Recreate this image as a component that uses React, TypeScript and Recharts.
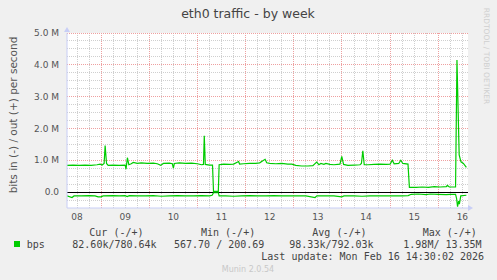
import React from "react";
import {
    LineChart, Line, XAxis, YAxis, ReferenceLine, ReferenceDot, CartesianGrid
} from "recharts";

// hours since Feb 8 00:00 -> Mbit/s
const outSamples: [number, number][] = [
    [7, 0.84], [10, 0.85], [13, 0.84], [16, 0.85], [19, 0.84], [22, 0.86], [23.5, 0.88], [24.5, 0.85],
    [25.5, 0.9], [26, 1.46], [26.7, 0.9], [27.5, 0.84], [30, 0.85], [33, 0.84], [36, 0.85], [36.4, 0.72],
    [37.1, 1.08], [37.8, 0.86], [39, 0.89], [40, 0.93], [42, 0.9], [44, 0.92], [47, 0.9], [50, 0.91],
    [52, 0.89], [53.7, 0.84], [55, 0.9], [58, 0.91], [59.5, 0.89], [60, 0.75], [60.5, 0.9], [63, 0.92],
    [66, 0.9], [69, 0.91], [72, 0.89], [74, 0.86], [75, 0.87], [75.4, 1.77], [75.9, 0.87], [78, 0.85],
    [79.5, 0.85], [80, 0.02], [82.4, 0.02], [82.8, 0.86], [85, 0.88], [88, 0.87], [90, 0.88], [92.5, 0.96],
    [93, 0.88], [95, 0.89], [98, 0.9], [101, 0.9], [103, 0.92], [105.7, 1.03], [106.5, 0.92], [108, 0.9],
    [111, 0.89], [114, 0.9], [117, 0.88], [119, 0.88], [121, 0.84], [124, 0.82], [127, 0.82], [129.5, 0.83],
    [131.4, 0.94], [132.5, 0.86], [133.5, 0.9], [135, 0.87], [136, 0.9], [138, 0.87], [140, 0.86], [143, 0.88],
    [143.9, 1.12], [144.8, 0.87], [147, 0.84], [150, 0.85], [153, 0.86], [153.7, 0.9], [154.4, 1.3], [155.1, 0.86],
    [157, 0.86], [160, 0.87], [163, 0.88], [166, 0.87], [168, 0.88], [169.1, 1.0], [170, 0.89], [172.3, 0.9],
    [173.3, 1.0], [174.3, 0.9], [176.9, 0.88], [177.6, 0.15], [181, 0.15], [184, 0.16], [187, 0.15], [190, 0.17],
    [193, 0.16], [196, 0.17], [196.5, 0.21], [197.5, 0.16], [200.6, 0.16], [201.3, 4.15], [202.4, 1.17], [203.3, 0.95],
    [204.5, 0.9], [206, 0.78],
];

const inSamples: [number, number][] = [
    [7, 0.12], [9.5, 0.17], [10.5, 0.12], [14, 0.12], [18, 0.11], [21, 0.12], [22.5, 0.15], [24, 0.15],
    [25, 0.12], [30, 0.11], [33, 0.12], [36, 0.11], [37, 0.14], [38, 0.11], [42, 0.12], [46, 0.12],
    [50, 0.11], [54, 0.13], [58, 0.12], [62, 0.11], [66, 0.12], [70, 0.12], [74, 0.11], [78, 0.12],
    [79.3, 0.1], [80, 0.02], [82.4, 0.02], [82.8, 0.12], [86, 0.12], [90, 0.13], [94, 0.12], [98, 0.11],
    [102, 0.12], [106, 0.12], [110, 0.11], [114, 0.12], [118, 0.12], [122, 0.12], [126, 0.12], [130.6, 0.17],
    [131.5, 0.12], [136, 0.12], [140, 0.12], [143.9, 0.15], [145, 0.12], [150, 0.12], [154, 0.13], [158, 0.12],
    [162, 0.12], [166, 0.12], [170, 0.12], [174, 0.12], [177, 0.11], [178.5, 0.07], [182, 0.06], [186, 0.08],
    [188, 0.06], [192, 0.07], [196, 0.08], [198, 0.07], [200.6, 0.07], [201.1, 0.2], [201.6, 0.46], [202.1, 0.28],
    [202.5, 0.38], [203.2, 0.12], [206, 0.1],
];

const dayLabels = ["08", "09", "10", "11", "12", "13", "14", "15", "16"];
const yTicks = [0, 1, 2, 3, 4, 5];
const yLabels = ["0.0", "1.0 M", "2.0 M", "3.0 M", "4.0 M", "5.0 M"];

const legendHead = ["Cur (-/+)", "Min (-/+)", "Avg (-/+)", "Max (-/+)"];
const legendVals = ["82.60k/780.64k", "567.70 / 200.69", "98.33k/792.03k", "1.98M/ 13.35M"];

const T_MIN = 7;
const T_MAX = 206.8;
const Y_MIN = -0.5;
const Y_MAX = 5;

const outData = outSamples.map(([t, v]) => ({ t, v }));
const inData = inSamples.map(([t, v]) => ({ t, v: -v }));

const dayTicks = dayLabels.map((_, i) => 12 + i * 24);
const majorX: number[] = [];
const minorX: number[] = [];
for (let h = 6; h < T_MAX; h += 6) {
    if (h < T_MIN) continue;
    if (h % 24 === 0) majorX.push(h);
    else minorX.push(h);
}
const majorY = yTicks.filter((v) => v > 0);
const minorY: number[] = [];
for (let q = -1; q < 20; q++) {
    if (q % 4 !== 0) minorY.push(q / 4);
}

const GREEN = "#00cc00";
const AXIS = "#c8cef6";
const MINOR = "#cfcfcf";
const MAJOR = "#eea0a0";
const tickStyle = { fontFamily: "DejaVu Sans", fontSize: 9, fill: "#555" };
const mono = "DejaVu Sans Mono";

export default function App() {
    return (
        <div style={{ position: "fixed", left: 0, top: 0, width: 497, height: 280, background: "#f0f0f0" }}>
            <LineChart width={497} height={280} data={outData} margin={{ top: 33, right: 29, bottom: 52, left: 0 }}>
                <CartesianGrid fill="#ffffff" fillOpacity={1} horizontal={false} vertical={false} />
                <XAxis
                    type="number"
                    dataKey="t"
                    domain={[T_MIN, T_MAX]}
                    allowDataOverflow
                    ticks={dayTicks}
                    tickFormatter={(t: number) => dayLabels[Math.round((t - 12) / 24)]}
                    height={20}
                    tickLine={false}
                    tickSize={0}
                    tickMargin={6}
                    tick={tickStyle}
                    axisLine={{ stroke: AXIS }}
                />
                <YAxis
                    type="number"
                    domain={[Y_MIN, Y_MAX]}
                    allowDataOverflow
                    ticks={yTicks}
                    tickFormatter={(v: number) => yLabels[yTicks.indexOf(v)]}
                    width={67}
                    tickLine={false}
                    tickSize={0}
                    tickMargin={8}
                    tick={tickStyle}
                    axisLine={{ stroke: AXIS }}
                />
                {minorX.map((h) => (
                    <ReferenceLine key={"mx" + h} x={h} stroke={MINOR} strokeDasharray="1 1" shapeRendering="crispEdges" />
                ))}
                {minorY.map((v) => (
                    <ReferenceLine key={"my" + v} y={v} stroke={MINOR} strokeDasharray="1 1" shapeRendering="crispEdges" />
                ))}
                {majorX.map((h) => (
                    <ReferenceLine key={"Mx" + h} x={h} stroke={MAJOR} strokeDasharray="1 1" shapeRendering="crispEdges" />
                ))}
                {majorY.map((v) => (
                    <ReferenceLine key={"My" + v} y={v} stroke={MAJOR} strokeDasharray="1 1" shapeRendering="crispEdges" />
                ))}
                <ReferenceLine y={0} stroke="#000" strokeWidth={1} shapeRendering="crispEdges" />
                <ReferenceDot
                    x={T_MAX}
                    y={Y_MIN}
                    ifOverflow="visible"
                    shape={(p: any) => (
                        <path d={`M${p.cx} ${p.cy - 3}L${p.cx + 5} ${p.cy}L${p.cx} ${p.cy + 3}Z`} fill={AXIS} />
                    )}
                />
                <ReferenceDot
                    x={T_MIN}
                    y={Y_MAX}
                    ifOverflow="visible"
                    shape={(p: any) => (
                        <path d={`M${p.cx - 3} ${p.cy - 1}L${p.cx} ${p.cy - 6}L${p.cx + 3} ${p.cy - 1}Z`} fill={AXIS} />
                    )}
                />
                <Line data={inData} dataKey="v" type="linear" stroke={GREEN} strokeWidth={1.2} dot={false} isAnimationActive={false} />
                <Line data={outData} dataKey="v" type="linear" stroke={GREEN} strokeWidth={1.2} dot={false} isAnimationActive={false} />
            </LineChart>
            <svg width={497} height={280} style={{ position: "absolute", left: 0, top: 0, pointerEvents: "none" }}>
                <text x={248} y={17.5} textAnchor="middle" fontFamily="DejaVu Sans" fontSize={12.5} fill="#444">
                    eth0 traffic - by week
                </text>
                <text
                    x={17}
                    y={115}
                    transform="rotate(-90 17 115)"
                    textAnchor="middle"
                    fontFamily="DejaVu Sans"
                    fontSize={10.5}
                    fill="#555"
                >
                    bits in (-) / out (+) per second
                </text>
                <text
                    x={484}
                    y={56}
                    transform="rotate(90 484 56)"
                    textAnchor="middle"
                    fontFamily="DejaVu Sans"
                    fontSize={7.5}
                    fill="#cfcfcf"
                >
                    RRDTOOL / TOBI OETIKER
                </text>
                {legendHead.map((s, i) => (
                    <text key={s} x={[89.3, 201, 312.3, 422.7][i]} y={236} fontFamily={mono} fontSize={10} fill="#444" xmlSpace="preserve">
                        {s}
                    </text>
                ))}
                <rect x={14} y={241} width={6} height={6} fill={GREEN} />
                <text x={26.7} y={248} fontFamily={mono} fontSize={10} fill="#444">bps</text>
                {legendVals.map((s, i) => (
                    <text key={s} x={[72.3, 174, 289.3, 403.3][i]} y={248} fontFamily={mono} fontSize={10} fill="#444" xmlSpace="preserve">
                        {s}
                    </text>
                ))}
                <text x={261.3} y={260} fontFamily={mono} fontSize={10} fill="#444">
                    Last update: Mon Feb 16 14:30:02 2026
                </text>
                <text x={248} y={272} textAnchor="middle" fontFamily="DejaVu Sans" fontSize={8} fill="#c8c8c8">
                    Munin 2.0.54
                </text>
            </svg>
        </div>
    );
}
